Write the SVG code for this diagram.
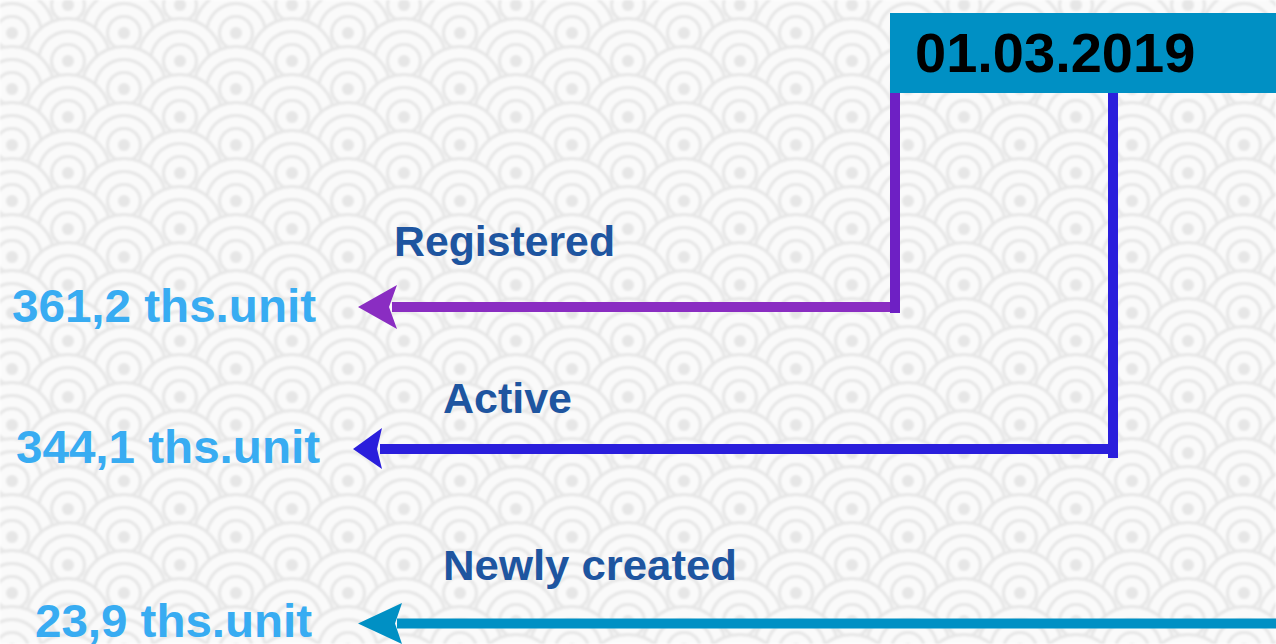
<svg xmlns="http://www.w3.org/2000/svg" xmlns:xlink="http://www.w3.org/1999/xlink" width="1276" height="644" viewBox="0 0 1276 644">
  <style>
    .lbl { font-family: "Liberation Sans", Arial, sans-serif; font-weight: bold; font-size: 43px; fill: #1e55a0; }
    .val { font-family: "Liberation Sans", Arial, sans-serif; font-weight: bold; font-size: 46px; fill: #38acf2; }
    .date { font-family: "Liberation Sans", Arial, sans-serif; font-weight: bold; font-size: 56px; fill: #000000; }
    .ln { fill: none; stroke-width: 10; stroke-linecap: butt; }
  </style>
  <defs>
    <g id="sc">
      <circle r="44" fill="#e6e6e6"/>
      <circle r="41" fill="#fafafa"/>
      <circle r="31" fill="#e6e6e6"/>
      <circle r="28" fill="#fafafa"/>
      <circle r="18" fill="#e6e6e6"/>
      <circle r="15" fill="#fafafa"/>
      <circle r="6" fill="#e6e6e6"/>
    </g>
    <pattern id="wave" patternUnits="userSpaceOnUse" x="12" y="-23" width="112" height="56">
      <rect width="112" height="56" fill="#ececec"/>
      <use xlink:href="#sc" x="0" y="0"/>
      <use xlink:href="#sc" x="112" y="0"/>
      <use xlink:href="#sc" x="56" y="28"/>
      <use xlink:href="#sc" x="0" y="56"/>
      <use xlink:href="#sc" x="112" y="56"/>
      <use xlink:href="#sc" x="56" y="84"/>
    </pattern>
    <filter id="soft" x="0" y="0" width="1" height="1">
      <feGaussianBlur stdDeviation="1.2"/>
    </filter>
  </defs>

  <rect x="0" y="0" width="1276" height="644" fill="url(#wave)" filter="url(#soft)"/>

  <g id="connectors">
    <line class="ln" x1="895" y1="93" x2="895" y2="313" stroke="#6e20c4"/>
    <line class="ln" x1="890" y1="307" x2="392" y2="307" stroke="#8a2dc2"/>
    <polygon points="358,307 397,285 389,307 397,329" fill="#8a2dc2"/>

    <line class="ln" x1="1113" y1="93" x2="1113" y2="458" stroke="#2a1edc"/>
    <line class="ln" x1="1118" y1="449" x2="380" y2="449" stroke="#2a1edc"/>
    <polygon points="353,449 382,428 377,449 382,469" fill="#2a1edc"/>

    <line class="ln" x1="1276" y1="623.5" x2="397" y2="623.5" stroke="#0090c4"/>
    <polygon points="358,623.5 402,603 395,623.5 402,644" fill="#0090c4"/>
  </g>

  <g id="date">
    <rect x="890" y="13" width="386" height="80" fill="#0090c4"/>
    <text class="date" x="915" y="72">01.03.2019</text>
  </g>

  <g id="registered">
    <text class="lbl" x="394" y="256" textLength="221" lengthAdjust="spacingAndGlyphs">Registered</text>
    <text class="val" x="12" y="322" textLength="304" lengthAdjust="spacingAndGlyphs">361,2 ths.unit</text>
  </g>

  <g id="active">
    <text class="lbl" x="443" y="413" textLength="129" lengthAdjust="spacingAndGlyphs">Active</text>
    <text class="val" x="16" y="463" textLength="304" lengthAdjust="spacingAndGlyphs">344,1 ths.unit</text>
  </g>

  <g id="newly">
    <text class="lbl" x="443" y="580" textLength="294" lengthAdjust="spacingAndGlyphs">Newly created</text>
    <text class="val" x="35" y="637" textLength="277" lengthAdjust="spacingAndGlyphs">23,9 ths.unit</text>
  </g>
</svg>
